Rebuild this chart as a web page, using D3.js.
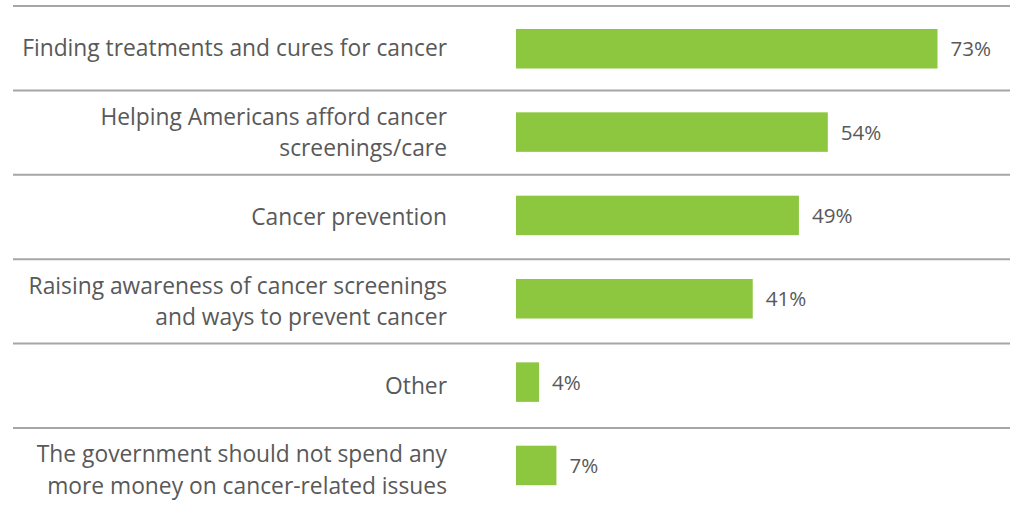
<!DOCTYPE html>
<html><head><meta charset="utf-8">
<script src="https://cdn.jsdelivr.net/npm/d3@7"></script>
<style>body{margin:0;background:#fff;} text{font-family:"Open Sans",sans-serif;}</style>
</head><body>
<svg id="c" width="1013" height="511"></svg>
<script>
const categories = [
  ["Finding treatments and cures for cancer"],
  ["Helping Americans afford cancer", "screenings/care"],
  ["Cancer prevention"],
  ["Raising awareness of cancer screenings", "and ways to prevent cancer"],
  ["Other"],
  ["The government should not spend any", "more money on cancer-related issues"]
];
const values = [73, 54, 49, 41, 4, 7];
const valueLabels = ["73%", "54%", "49%", "41%", "4%", "7%"];

const svg = d3.select("#c");
const x = d3.scaleLinear().domain([0, 73]).range([516, 937.5]);
// row bands (separators + category labels)
const yRow = d3.scaleBand().domain(d3.range(values.length)).range([6, 6 + 6 * 84.4]);
// bar positions (top of each bar)
const yBar = d3.scaleLinear().domain([0, values.length - 1]).range([29, 445.7]);
const barH = 39.5;

svg.selectAll("line.sep").data(d3.range(values.length)).join("line")
  .attr("class", "sep")
  .attr("x1", 13).attr("x2", 1010)
  .attr("y1", i => yRow(i)).attr("y2", i => yRow(i))
  .attr("stroke", "#a6a6a6").attr("stroke-width", 2);

svg.selectAll("rect.bar").data(values).join("rect")
  .attr("class", "bar")
  .attr("x", x(0)).attr("y", (d, i) => yBar(i))
  .attr("width", d => x(d) - x(0)).attr("height", barH)
  .attr("fill", "#8dc63f");

svg.selectAll("text.val").data(values).join("text")
  .attr("class", "val")
  .attr("x", d => x(d) + 13).attr("y", (d, i) => yBar(i) + barH / 2)
  .attr("dy", "0.36em").attr("font-size", 20.6).attr("fill", "#595959")
  .text((d, i) => valueLabels[i]);

const lab = svg.selectAll("text.cat").data(categories).join("text")
  .attr("class", "cat")
  .attr("text-anchor", "end").attr("font-size", 22.8).attr("fill", "#595959");
lab.each(function(lines, i) {
  const t = d3.select(this);
  const cy = yRow(i) + yRow.bandwidth() / 2;
  const lh = 31.5;
  const start = cy - (lines.length - 1) * lh / 2;
  lines.forEach((s, k) => {
    t.append("tspan").attr("x", 447).attr("y", start + k * lh).attr("dy", "0.35em").text(s);
  });
});
</script>
</body></html>
